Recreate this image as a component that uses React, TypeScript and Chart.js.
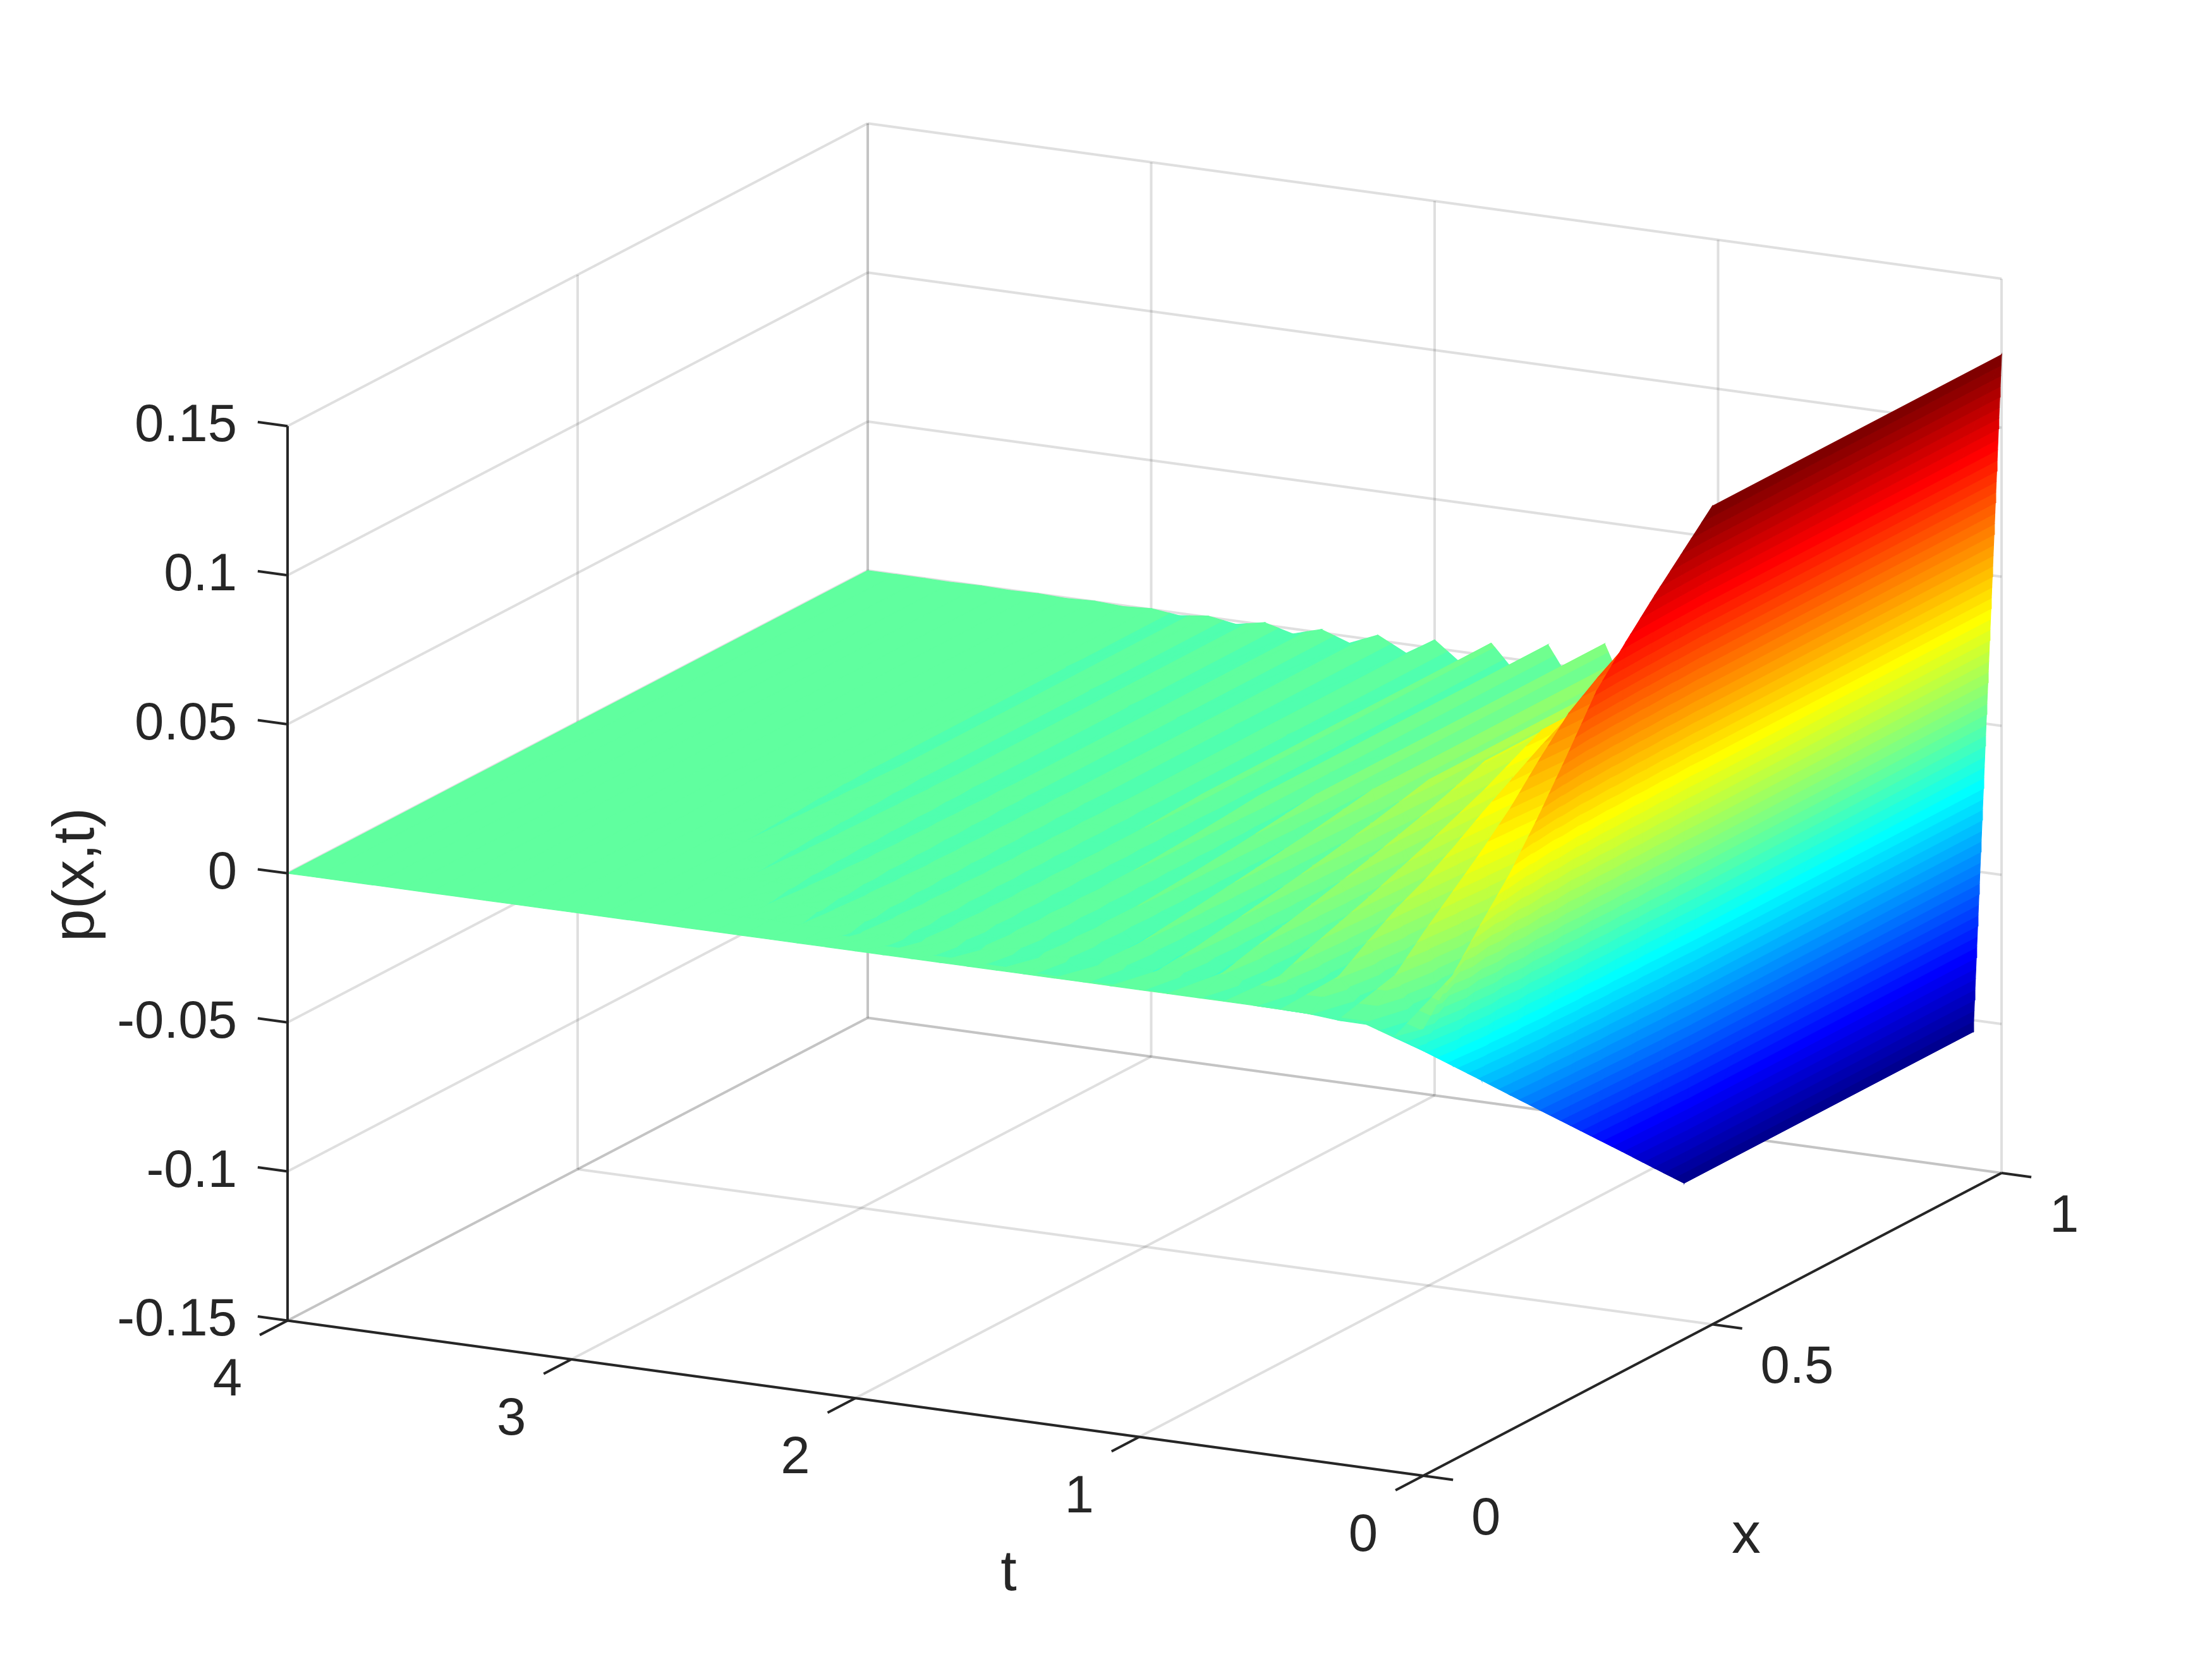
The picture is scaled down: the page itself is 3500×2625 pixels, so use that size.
import React, { useEffect, useRef } from "react";
import { Chart, registerables } from "chart.js";

Chart.register(...registerables);

// ---------- values ----------
const tNodes = [0, 0.1, 0.2, 0.3, 0.4, 0.5, 0.6, 0.7, 0.8, 0.9, 1, 1.1, 1.2, 1.3, 1.4, 1.5, 1.6, 1.7, 1.8, 1.9, 2, 2.1, 2.2, 2.3, 2.4, 2.5, 2.6, 2.7, 2.8, 2.9, 3, 3.1, 3.2, 3.3, 3.4, 3.5, 3.6, 3.7, 3.8, 3.9, 4];
const xNodes = [0, 0.05, 0.1, 0.15, 0.2, 0.25, 0.3, 0.35, 0.4, 0.45, 0.5, 1];
// p(x >= 0.5, t) along the plateau
const plateau = [0.1245, -0.1039, 0.0856, -0.0654, 0.0596, -0.0444, 0.0416, -0.0314, 0.0286, -0.0224, 0.0196, -0.0164, 0.0136, -0.0114, 0.0093, -0.0081, 0.0064, -0.0061, 0.0043, -0.0044, 0.0028, -0.003, 0.0018, -0.0022, 0.0011, -0.0017, 0.0008, -0.0011, 0.0004, -0.0008, 0.0003, -0.0003, 0.0002, -0.0002, 0.0001, -0.0001, 0.0001, -0.0001, 0, 0, 0];
// fraction of the plateau value reached at each x node
const shapeT0 = [0, 0.1, 0.2, 0.295, 0.41, 0.535, 0.665, 0.755, 0.84, 0.92, 1, 1];
const shapeT01 = [0.038, 0.134, 0.23, 0.326, 0.423, 0.519, 0.615, 0.711, 0.807, 0.904, 1, 1];
const shapeT02 = [-0.014, 0.12, 0.23, 0.33, 0.43, 0.54, 0.67, 0.79, 0.87, 0.94, 1, 1];
const shapeT03 = [0.017, 0.11, 0.2, 0.3, 0.4, 0.5, 0.6, 0.7, 0.8, 0.9, 1, 1];
const shapeT04 = [-0.005, 0.12, 0.23, 0.33, 0.41, 0.51, 0.62, 0.72, 0.82, 0.91, 1, 1];
const shapeOddEarly = [0, 0.15, 0.3, 0.42, 0.52, 0.62, 0.71, 0.79, 0.87, 0.94, 1, 1];
const shapeOddMid = [0, 0.22, 0.37, 0.49, 0.58, 0.66, 0.74, 0.81, 0.88, 0.95, 1, 1];
const shapeOddLate = [0, 0.18, 0.25, 0.33, 0.41, 0.5, 0.58, 0.66, 0.75, 0.87, 1, 1];
const shapeEvenMid = [0, 0.12, 0.22, 0.3, 0.38, 0.47, 0.56, 0.66, 0.76, 0.88, 1, 1];
const shapeEvenLate = [0, 0.1, 0.2, 0.27, 0.35, 0.43, 0.52, 0.62, 0.73, 0.86, 1, 1];
// which shape each t node uses
const shapeOfT = [shapeT0, shapeT01, shapeT02, shapeT03, shapeT04, shapeOddEarly, shapeEvenMid, shapeOddEarly, shapeEvenMid, shapeOddMid, shapeEvenMid, shapeOddMid, shapeEvenMid, shapeOddMid, shapeEvenLate, shapeOddLate, shapeEvenLate, shapeOddLate, shapeEvenLate, shapeOddLate, shapeEvenLate, shapeOddLate, shapeEvenLate, shapeOddLate, shapeEvenLate, shapeOddLate, shapeEvenLate, shapeOddLate, shapeEvenLate, shapeOddLate, shapeEvenLate, shapeOddLate, shapeEvenLate, shapeOddLate, shapeEvenLate, shapeOddLate, shapeEvenLate, shapeOddLate, shapeEvenLate, shapeOddLate, shapeEvenLate];

const tTicks = [0, 1, 2, 3, 4];
const xTicks = [0, 0.5, 1];
const pTicks = [-0.15, -0.1, -0.05, 0, 0.05, 0.1, 0.15];
const tTickLabels = ["0", "1", "2", "3", "4"];
const xTickLabels = ["0", "0.5", "1"];
const pTickLabels = ["-0.15", "-0.1", "-0.05", "0", "0.05", "0.1", "0.15"];

const pLow = -0.1039;
const pHigh = 0.1245;
const LEVELS = 64;

// ---------- view of the 3-D box on the chart's plane ----------
const project = (t: number, x: number, p: number) => ({
  x: 2252 - 449.25 * t + (915 + 0.75 * t) * x,
  y: 2335 - 61.4 * t - 479 * x - 4717 * (p + 0.15),
});

const surfaceValue = (i: number, j: number) => plateau[i] * shapeOfT[i][j];

const jet = (k: number) => {
  const v = (k + 1) / LEVELS;
  const ramp = (c: number) => Math.round(255 * Math.max(0, Math.min(1, 1.5 - Math.abs(4 * v - c))));
  return `rgb(${ramp(3)},${ramp(2)},${ramp(1)})`;
};
const levelValue = (k: number) => pLow + ((pHigh - pLow) * k) / LEVELS;
const levelOf = (p: number) => Math.max(0, Math.min(LEVELS - 1, Math.floor(((p - pLow) / (pHigh - pLow)) * LEVELS)));

type V = [number, number, number];

const clip = (poly: V[], limit: number, keepAbove: boolean): V[] => {
  const out: V[] = [];
  for (let n = 0; n < poly.length; n++) {
    const a = poly[n];
    const b = poly[(n + 1) % poly.length];
    const ina = keepAbove ? a[2] >= limit : a[2] <= limit;
    const inb = keepAbove ? b[2] >= limit : b[2] <= limit;
    if (ina) out.push(a);
    if (ina !== inb) {
      const f = (limit - a[2]) / (b[2] - a[2]);
      out.push([a[0] + f * (b[0] - a[0]), a[1] + f * (b[1] - a[1]), limit]);
    }
  }
  return out;
};

const polygonDataset = (poly: V[], k: number) => {
  const pts = poly.map((v) => project(v[0], v[1], v[2]));
  pts.push(pts[0]);
  const c = jet(k);
  return {
    data: pts,
    showLine: true,
    fill: "shape",
    backgroundColor: c,
    borderColor: c,
    borderWidth: 1.2,
    pointRadius: 0,
    tension: 0,
  };
};

const surfaceDatasets = () => {
  const out: any[] = [];
  const tri = (poly: V[]) => {
    const zs = poly.map((v) => v[2]);
    const lo = levelOf(Math.min(...zs));
    const hi = levelOf(Math.max(...zs));
    for (let k = lo; k <= hi; k++) {
      let piece = k > 0 ? clip(poly, levelValue(k), true) : poly;
      if (piece.length >= 3 && k < LEVELS - 1) piece = clip(piece, levelValue(k + 1), false);
      if (piece.length >= 3) out.push(polygonDataset(piece, k));
    }
  };
  for (let i = tNodes.length - 2; i >= 0; i--) {
    const node = (a: number, b: number): V => [tNodes[a], xNodes[b], surfaceValue(a, b)];
    let run: { j0: number; j1: number; k: number } | null = null;
    const flush = () => {
      if (!run) return;
      const poly: V[] = [];
      for (let j = run.j0; j <= run.j1; j++) poly.push(node(i + 1, j));
      for (let j = run.j1; j >= run.j0; j--) poly.push(node(i, j));
      out.push(polygonDataset(poly, run.k));
      run = null;
    };
    for (let j = xNodes.length - 2; j >= 0; j--) {
      const a = node(i, j);
      const b = node(i + 1, j);
      const c = node(i + 1, j + 1);
      const d = node(i, j + 1);
      const ks = [a, b, c, d].map((v) => levelOf(v[2]));
      if (ks.every((k) => k === ks[0])) {
        if (run && run.k === ks[0]) run.j0 = j;
        else {
          flush();
          run = { j0: j, j1: j + 1, k: ks[0] };
        }
      } else {
        flush();
        tri([b, c, d]);
        tri([a, b, d]);
      }
    }
    flush();
  }
  return out;
};

const segment = (color: string, width: number, a: number[], b: number[]) => ({
  data: [project(a[0], a[1], a[2]), project(b[0], b[1], b[2])],
  showLine: true,
  fill: false,
  borderColor: color,
  backgroundColor: color,
  borderWidth: width,
  pointRadius: 0,
  tension: 0,
});

const GRID = "rgba(38,38,38,0.15)";
const INK = "#262626";

const gridDatasets = () => {
  const out: any[] = [];
  const pMin = pTicks[0];
  const pMax = pTicks[pTicks.length - 1];
  for (const t of tTicks) {
    out.push(segment(GRID, 4, [t, 1, pMin], [t, 1, pMax]));
    out.push(segment(GRID, 4, [t, 0, pMin], [t, 1, pMin]));
  }
  for (const x of xTicks) {
    if (x > 0) out.push(segment(GRID, 4, [4, x, pMin], [4, x, pMax]));
    out.push(segment(GRID, 4, [0, x, pMin], [4, x, pMin]));
  }
  for (const p of pTicks) {
    out.push(segment(GRID, 4, [0, 1, p], [4, 1, p]));
    out.push(segment(GRID, 4, [4, 0, p], [4, 1, p]));
  }
  return out;
};

const axisDatasets = () => {
  const out: any[] = [];
  const pMin = pTicks[0];
  const pMax = pTicks[pTicks.length - 1];
  out.push(segment(INK, 4, [4, 0, pMin], [4, 0, pMax]));
  out.push(segment(INK, 4, [0, 0, pMin], [4, 0, pMin]));
  out.push(segment(INK, 4, [0, 0, pMin], [0, 1, pMin]));
  for (const t of tTicks) out.push(segment(INK, 4, [t, 0, pMin], [t, -0.048, pMin]));
  for (const x of xTicks) out.push(segment(INK, 4, [0, x, pMin], [-0.105, x, pMin]));
  for (const p of pTicks) out.push(segment(INK, 4, [4, 0, p], [4.105, 0, p]));
  return out;
};

const textPlugin = {
  id: "boxText",
  afterDraw(chart: any) {
    const { ctx, scales } = chart;
    const put = (label: string, px: number, py: number, align: CanvasTextAlign, size: number, rot = 0) => {
      ctx.save();
      ctx.translate(scales.x.getPixelForValue(px), scales.y.getPixelForValue(py));
      ctx.rotate(rot);
      ctx.font = `${size}px "Liberation Sans", Arial, sans-serif`;
      ctx.fillStyle = INK;
      ctx.textAlign = align;
      ctx.textBaseline = "middle";
      ctx.fillText(label, 0, 0);
      ctx.restore();
    };
    const pMin = pTicks[0];
    pTicks.forEach((p, n) => {
      const a = project(4, 0, p);
      put(pTickLabels[n], a.x - 80, a.y + 1, "right", 83.3);
    });
    tTicks.forEach((t, n) => {
      const a = project(t, 0, pMin);
      put(tTickLabels[n], a.x - 95, a.y + 96, "center", 83.3);
    });
    xTicks.forEach((x, n) => {
      const a = project(0, x, pMin);
      put(xTickLabels[n], a.x + 76, a.y + 70, "left", 83.3);
    });
    put("t", 1596, 2491, "center", 91.7);
    put("x", 2763, 2432, "center", 91.7);
    put("p(x,t)", 122, 1384, "center", 93, -Math.PI / 2);
  },
};

export default function App() {
  const ref = useRef<HTMLCanvasElement>(null);
  useEffect(() => {
    if (!ref.current) return;
    // first dataset is painted last
    const datasets = [...axisDatasets(), ...surfaceDatasets().reverse(), ...gridDatasets()];
    const chart = new Chart(ref.current, {
      type: "scatter",
      data: { datasets },
      plugins: [textPlugin],
      options: {
        animation: false,
        responsive: false,
        devicePixelRatio: 1,
        events: [],
        parsing: false,
        layout: { padding: 0 },
        plugins: { legend: { display: false }, tooltip: { enabled: false } },
        datasets: { scatter: { clip: false } },
        scales: {
          x: { type: "linear", display: false, min: 0, max: 3500 },
          y: { type: "linear", display: false, min: 0, max: 2625, reverse: true },
        },
      },
    } as any);
    return () => chart.destroy();
  }, []);
  return (
    <div style={{ position: "absolute", left: 0, top: 0, width: 3500, height: 2625, background: "#fff" }}>
      <canvas ref={ref} width={3500} height={2625} style={{ display: "block" }} />
    </div>
  );
}
